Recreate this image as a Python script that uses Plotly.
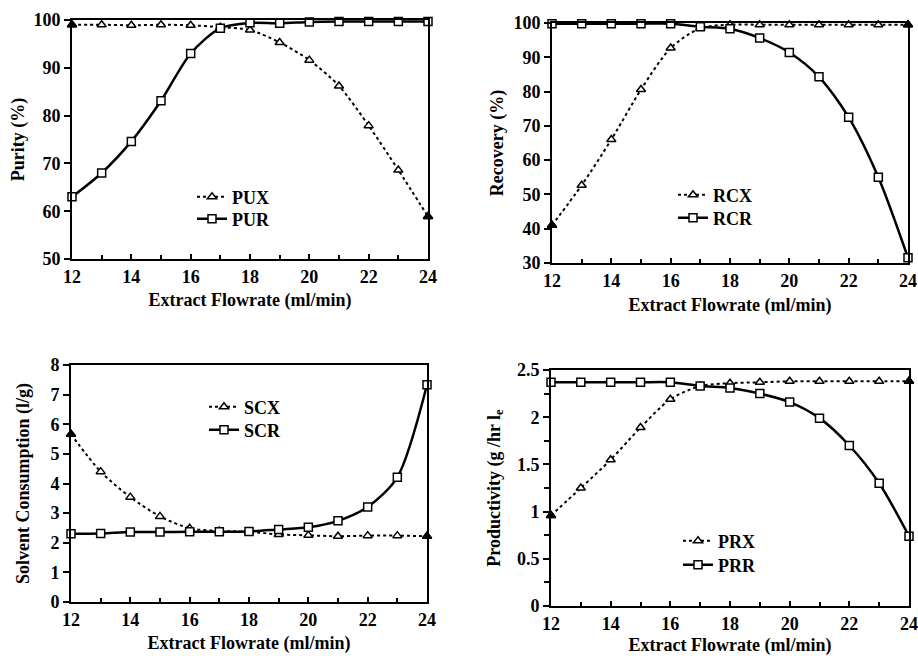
import plotly.graph_objects as go

W, H = 918, 656

flow = [12, 13, 14, 15, 16, 17, 18, 19, 20, 21, 22, 23, 24]

PUX = [99.0, 99.0, 98.9, 99.0, 98.9, 98.5, 97.9, 95.3, 91.6, 86.2, 77.9, 68.6, 58.9]
PUR = [63.0, 68.0, 74.6, 83.1, 93.0, 98.3, 99.4, 99.3, 99.6, 99.7, 99.7, 99.7, 99.7]

RCX = [41.0, 52.7, 66.0, 80.6, 92.7, 98.5, 99.5, 99.5, 99.5, 99.5, 99.5, 99.5, 99.5]
RCR = [99.8, 99.8, 99.8, 99.8, 99.8, 98.9, 98.3, 95.6, 91.4, 84.3, 72.5, 55.0, 31.5]

SCX = [5.66, 4.40, 3.54, 2.89, 2.49, 2.40, 2.37, 2.28, 2.25, 2.22, 2.24, 2.24, 2.22]
SCR = [2.30, 2.31, 2.36, 2.36, 2.37, 2.37, 2.38, 2.45, 2.52, 2.74, 3.21, 4.21, 7.33]

PRX = [0.96, 1.25, 1.55, 1.89, 2.19, 2.33, 2.36, 2.37, 2.38, 2.38, 2.38, 2.38, 2.38]
PRR = [2.37, 2.37, 2.37, 2.37, 2.37, 2.33, 2.31, 2.25, 2.16, 1.99, 1.70, 1.30, 0.74]

panels = [
    dict(xname="PUX", rname="PUR", xs=PUX, rs=PUR, ytitle="Purity (%)",
         yrange=[50, 100], dtick=10, minor=None, ystand=4, xstand=8,
         px=(72, 428), py=(20, 259), legx=233, legy=(197, 219)),
    dict(xname="RCX", rname="RCR", xs=RCX, rs=RCR, ytitle="Recovery (%)",
         yrange=[30, 100], dtick=10, minor=None, ystand=5, xstand=9,
         px=(552, 908), py=(23, 263), legx=714, legy=(195, 218)),
    dict(xname="SCX", rname="SCR", xs=SCX, rs=SCR, ytitle="Solvent Consumption (l/g)",
         yrange=[0, 8], dtick=1, minor=None, ystand=16, xstand=8,
         px=(71, 427), py=(365, 602), legx=245, legy=(407, 430)),
    dict(xname="PRX", rname="PRR", xs=PRX, rs=PRR, ytitle="Productivity (g /hr l<sub>e</sub>",
         yrange=[0, 2.5], dtick=0.5, minor=0.25, ystand=12, xstand=13,
         px=(551, 909), py=(370, 606), legx=719, legy=(541, 565)),
]

FONT = dict(family="Liberation Serif, Times New Roman, serif", size=18, color="black", weight="bold")

fig = go.Figure()
layout = dict(width=W, height=H, margin=dict(l=0, r=0, t=0, b=0),
              paper_bgcolor="white", plot_bgcolor="white", font=FONT)

leg_idx = 0
for i, p in enumerate(panels, start=1):
    sfx = "" if i == 1 else str(i)
    leg_names = []
    for _ in range(2):
        leg_idx += 1
        leg_names.append("legend" if leg_idx == 1 else f"legend{leg_idx}")
    xa, ya = "x" + sfx, "y" + sfx

    fig.add_trace(go.Scatter(
        x=flow, y=p["xs"], name=p["xname"], mode="lines+markers",
        line=dict(color="black", width=2, dash="dot", shape="spline", smoothing=0.8),
        marker=dict(symbol="triangle-up", size=8, color="white",
                    line=dict(color="black", width=1.5)),
        cliponaxis=False, xaxis=xa, yaxis=ya, legend=leg_names[0]))
    # end-point triangles appear solid where they sit on the frame
    fig.add_trace(go.Scatter(
        x=[flow[0], flow[-1]], y=[p["xs"][0], p["xs"][-1]], mode="markers",
        marker=dict(symbol="triangle-up", size=8, color="black",
                    line=dict(color="black", width=1.5)),
        showlegend=False, hoverinfo="skip", cliponaxis=False, xaxis=xa, yaxis=ya))
    fig.add_trace(go.Scatter(
        x=flow, y=p["rs"], name=p["rname"], mode="lines+markers",
        line=dict(color="black", width=2.5, shape="spline", smoothing=0.8),
        marker=dict(symbol="square", size=8, color="white",
                    line=dict(color="black", width=1.5)),
        cliponaxis=False, xaxis=xa, yaxis=ya, legend=leg_names[1]))

    x0, x1 = p["px"]
    y0, y1 = p["py"]
    layout["xaxis" + sfx] = dict(
        domain=[x0 / W, x1 / W], range=[12, 24], dtick=2, tick0=12,
        ticks="inside", ticklen=5, tickwidth=1.5, tickcolor="black",
        minor=dict(dtick=1, ticks="inside", ticklen=4, tickwidth=1.5, tickcolor="black"),
        showline=True, linecolor="black", linewidth=2, mirror=True,
        showgrid=False, zeroline=False, automargin=False,
        anchor=ya, tickfont=FONT,
        title=dict(text="Extract Flowrate (ml/min)", font=FONT, standoff=p["xstand"]))
    yax = dict(
        domain=[1 - y1 / H, 1 - y0 / H], range=p["yrange"], dtick=p["dtick"],
        ticks="outside", ticklen=6, tickwidth=1.5, tickcolor="black",
        showline=True, linecolor="black", linewidth=2, mirror=True,
        showgrid=False, zeroline=False, automargin=False,
        anchor=xa, tickfont=FONT,
        title=dict(text=p["ytitle"], font=FONT, standoff=p["ystand"]))
    if p["minor"]:
        yax["minor"] = dict(dtick=p["minor"], ticks="outside", ticklen=5,
                            tickwidth=1.5, tickcolor="black")
    layout["yaxis" + sfx] = yax
    for name, ly in zip(leg_names, p["legy"]):
        layout[name] = dict(x=(p["legx"] - 41) / W, y=1 - ly / H,
                            xanchor="left", yanchor="middle",
                            bgcolor="rgba(0,0,0,0)", font=FONT, itemwidth=30)

fig.update_layout(**layout)
fig.write_html("out.html")
